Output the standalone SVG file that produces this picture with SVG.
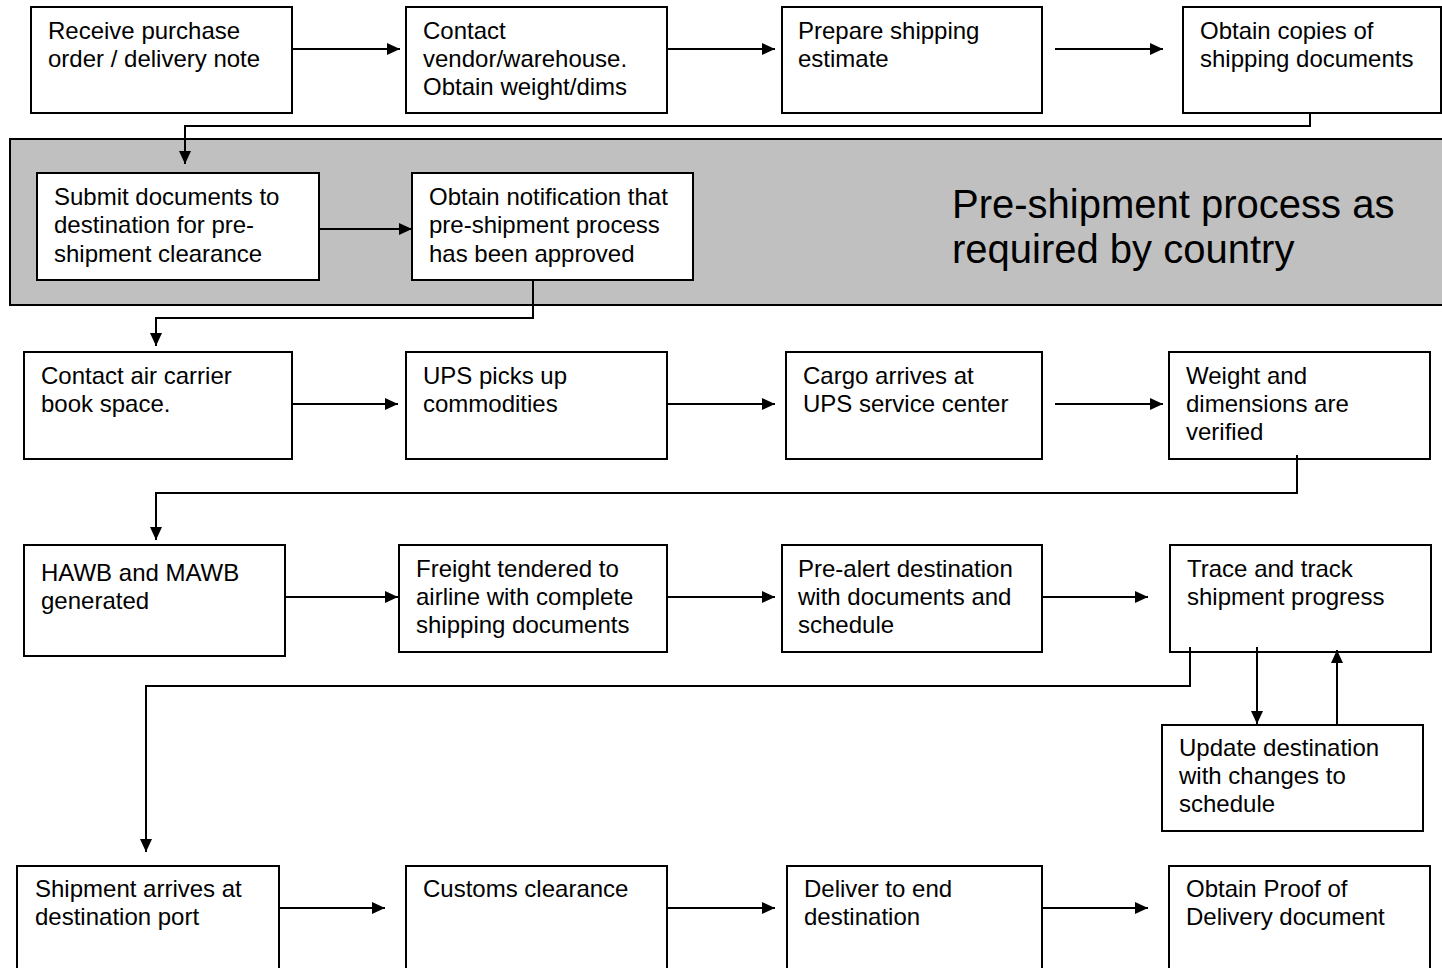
<svg xmlns="http://www.w3.org/2000/svg" width="1442" height="968" viewBox="0 0 1442 968">
<style>
.box{fill:#fff;stroke:#000;stroke-width:2}
.t{font-family:"Liberation Sans",Arial,sans-serif;font-size:24px;fill:#000}
.big{font-family:"Liberation Sans",Arial,sans-serif;font-size:40px;fill:#000}
.c{fill:none;stroke:#000;stroke-width:2}
</style>
<defs>
<marker id="ah" markerWidth="13" markerHeight="12" refX="13" refY="6" orient="auto" markerUnits="userSpaceOnUse">
<path d="M0,0 L13,6 L0,12 Z" fill="#000"/>
</marker>
</defs>
<rect x="0" y="0" width="1442" height="968" fill="#fff"/>
<g id="band">
<rect x="10" y="139" width="1440" height="166" fill="#c0c0c0" stroke="#000" stroke-width="2"/>
<text class="big" x="952" y="218">Pre-shipment process as</text>
<text class="big" x="952" y="263">required by country</text>
</g>
<g id="n1"><rect class="box" x="31" y="7" width="261" height="106"/><text class="t" x="48" y="39">Receive purchase</text><text class="t" x="48" y="67">order / delivery note</text></g>
<g id="n2"><rect class="box" x="406" y="7" width="261" height="106"/><text class="t" x="423" y="39">Contact</text><text class="t" x="423" y="67">vendor/warehouse.</text><text class="t" x="423" y="95">Obtain weight/dims</text></g>
<g id="n3"><rect class="box" x="782" y="7" width="260" height="106"/><text class="t" x="798" y="39">Prepare shipping</text><text class="t" x="798" y="67">estimate</text></g>
<g id="n4"><rect class="box" x="1183" y="7" width="258" height="106"/><text class="t" x="1200" y="39">Obtain copies of</text><text class="t" x="1200" y="67">shipping documents</text></g>
<g id="n5"><rect class="box" x="37" y="173" width="282" height="107"/><text class="t" x="54" y="205">Submit documents to</text><text class="t" x="54" y="233">destination for pre-</text><text class="t" x="54" y="262">shipment clearance</text></g>
<g id="n6"><rect class="box" x="412" y="173" width="281" height="107"/><text class="t" x="429" y="205">Obtain notification that</text><text class="t" x="429" y="233">pre-shipment process</text><text class="t" x="429" y="262">has been approved</text></g>
<g id="n7"><rect class="box" x="24" y="352" width="268" height="107"/><text class="t" x="41" y="384">Contact air carrier</text><text class="t" x="41" y="412">book space.</text></g>
<g id="n8"><rect class="box" x="406" y="352" width="261" height="107"/><text class="t" x="423" y="384">UPS picks up</text><text class="t" x="423" y="412">commodities</text></g>
<g id="n9"><rect class="box" x="786" y="352" width="256" height="107"/><text class="t" x="803" y="384">Cargo arrives at</text><text class="t" x="803" y="412">UPS service center</text></g>
<g id="n10"><rect class="box" x="1169" y="352" width="261" height="107"/><text class="t" x="1186" y="384">Weight and</text><text class="t" x="1186" y="412">dimensions are</text><text class="t" x="1186" y="440">verified</text></g>
<g id="n11"><rect class="box" x="24" y="545" width="261" height="111"/><text class="t" x="41" y="581">HAWB and MAWB</text><text class="t" x="41" y="609">generated</text></g>
<g id="n12"><rect class="box" x="399" y="545" width="268" height="107"/><text class="t" x="416" y="577">Freight tendered to</text><text class="t" x="416" y="605">airline with complete</text><text class="t" x="416" y="633">shipping documents</text></g>
<g id="n13"><rect class="box" x="782" y="545" width="260" height="107"/><text class="t" x="798" y="577">Pre-alert destination</text><text class="t" x="798" y="605">with documents and</text><text class="t" x="798" y="633">schedule</text></g>
<g id="n14"><rect class="box" x="1170" y="545" width="261" height="107"/><text class="t" x="1187" y="577">Trace and track</text><text class="t" x="1187" y="605">shipment progress</text></g>
<g id="n15"><rect class="box" x="1162" y="725" width="261" height="106"/><text class="t" x="1179" y="756">Update destination</text><text class="t" x="1179" y="784">with changes to</text><text class="t" x="1179" y="812">schedule</text></g>
<g id="n16"><rect class="box" x="17" y="866" width="262" height="120"/><text class="t" x="35" y="897">Shipment arrives at</text><text class="t" x="35" y="925">destination port</text></g>
<g id="n17"><rect class="box" x="406" y="866" width="261" height="120"/><text class="t" x="423" y="897">Customs clearance</text></g>
<g id="n18"><rect class="box" x="787" y="866" width="255" height="120"/><text class="t" x="804" y="897">Deliver to end</text><text class="t" x="804" y="925">destination</text></g>
<g id="n19"><rect class="box" x="1169" y="866" width="261" height="120"/><text class="t" x="1186" y="897">Obtain Proof of</text><text class="t" x="1186" y="925">Delivery document</text></g>
<g id="connectors">
<path class="c" d="M292,49 H400" marker-end="url(#ah)"/>
<path class="c" d="M667,49 H775" marker-end="url(#ah)"/>
<path class="c" d="M1055,49 H1163" marker-end="url(#ah)"/>
<path class="c" d="M1310,113 V126 H185 V164" marker-end="url(#ah)"/>
<path class="c" d="M319,229 H412" marker-end="url(#ah)"/>
<path class="c" d="M533,280 V318 H156 V346" marker-end="url(#ah)"/>
<path class="c" d="M292,404 H398" marker-end="url(#ah)"/>
<path class="c" d="M667,404 H775" marker-end="url(#ah)"/>
<path class="c" d="M1055,404 H1163" marker-end="url(#ah)"/>
<path class="c" d="M1297,455 V493 H156 V540" marker-end="url(#ah)"/>
<path class="c" d="M285,597 H398" marker-end="url(#ah)"/>
<path class="c" d="M667,597 H775" marker-end="url(#ah)"/>
<path class="c" d="M1042,597 H1148" marker-end="url(#ah)"/>
<path class="c" d="M1257,647 V724" marker-end="url(#ah)"/>
<path class="c" d="M1337,724 V650" marker-end="url(#ah)"/>
<path class="c" d="M1190,647 V686 H146 V852" marker-end="url(#ah)"/>
<path class="c" d="M279,908 H385" marker-end="url(#ah)"/>
<path class="c" d="M667,908 H775" marker-end="url(#ah)"/>
<path class="c" d="M1042,908 H1148" marker-end="url(#ah)"/>
</g>
</svg>
